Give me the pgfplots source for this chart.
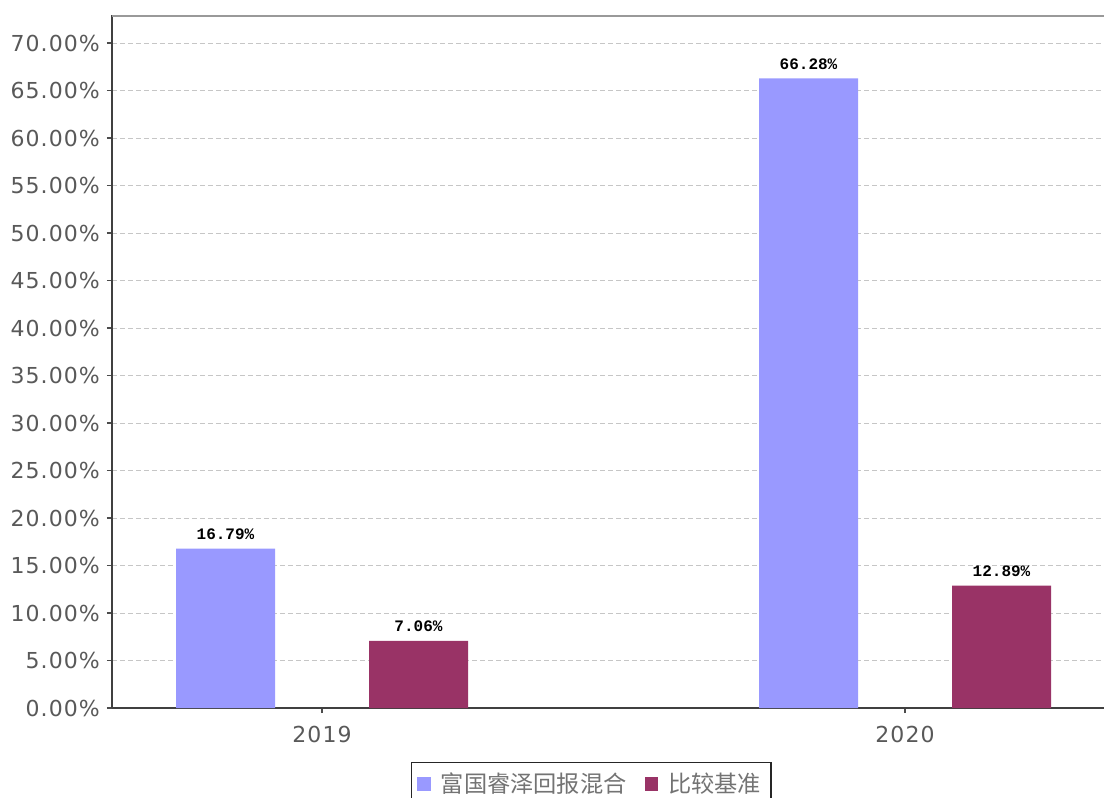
\documentclass[border=0pt]{standalone}
\usepackage{fontspec}
\setmainfont{DejaVu Sans}
\newfontfamily\tickfont{DejaVu Sans}[LetterSpace=5]
\newfontfamily\cjk{Noto Sans CJK SC}
\newfontfamily\monob{Liberation Mono}
\usepackage{pgfplots}
\pgfplotsset{compat=1.18}

\definecolor{fundblue}{HTML}{9999FF}
\definecolor{benchred}{HTML}{993366}

\begin{document}
\begin{tikzpicture}
  % page = 1104 x 798 px at 0.5pt per px
  \path[use as bounding box] (-56pt,-45pt) rectangle (496pt,354pt);
  \begin{axis}[
    name=ax,
    at={(0,0)}, anchor=south west,
    scale only axis,
    width=496pt, height=346.5pt,
    xmin=-0.3602, xmax=1.3413,
    ymin=0, ymax=72.95,
    axis x line*=bottom,
    axis y line*=left,
    axis line style={-, line width=0.9pt, black!75},
    xtick={0,1},
    xticklabels={2019,2020},
    ytick={0,5,...,70},
    yticklabels={0.00\%,5.00\%,10.00\%,15.00\%,20.00\%,25.00\%,30.00\%,35.00\%,40.00\%,45.00\%,50.00\%,55.00\%,60.00\%,65.00\%,70.00\%},
    tick align=outside,
    major tick length=2.5pt,
    tick style={black!70, line width=0.6pt},
    ticklabel style={font=\tickfont\fontsize{11pt}{13pt}\selectfont, text=black!65},
    xticklabel style={yshift=-3pt},
    ymajorgrids,
    major grid style={gray!45, dash pattern=on 2.5pt off 1.5pt, line width=0.5pt},
    ybar,
    bar width=49.5pt,
    nodes near coords={\pgfmathprintnumber[fixed,fixed zerofill,precision=2,assume math mode=true]{\pgfplotspointmeta}\%},
    every node near coord/.append style={font=\monob\bfseries\fontsize{8pt}{9pt}\selectfont, text=black, yshift=1pt},
    legend columns=2,
    legend style={at={(0.483,0)}, anchor=north, yshift=-27pt,
      draw=black!85, line width=0.6pt, inner sep=3pt,
      font=\cjk\fontsize{11.6pt}{13pt}\selectfont, text=black!55,
      /tikz/every odd column/.append style={column sep=3pt},
      /tikz/every even column/.append style={column sep=7pt}},
    legend image code/.code={\fill[#1] (0pt,-3.4pt) rectangle (6.8pt,3.4pt);},
  ]
    \addplot[fill=fundblue, draw=none, bar shift=-48.25pt]
      coordinates {(0,16.79) (1,66.28)};
    \addplot[fill=benchred, draw=none, bar shift=48.25pt]
      coordinates {(0,7.06) (1,12.89)};
    \legend{富国睿泽回报混合,比较基准}
    \draw[black!40, line width=1.5pt] (rel axis cs:0,1) -- (rel axis cs:1,1);
  \end{axis}
\end{tikzpicture}
\end{document}
